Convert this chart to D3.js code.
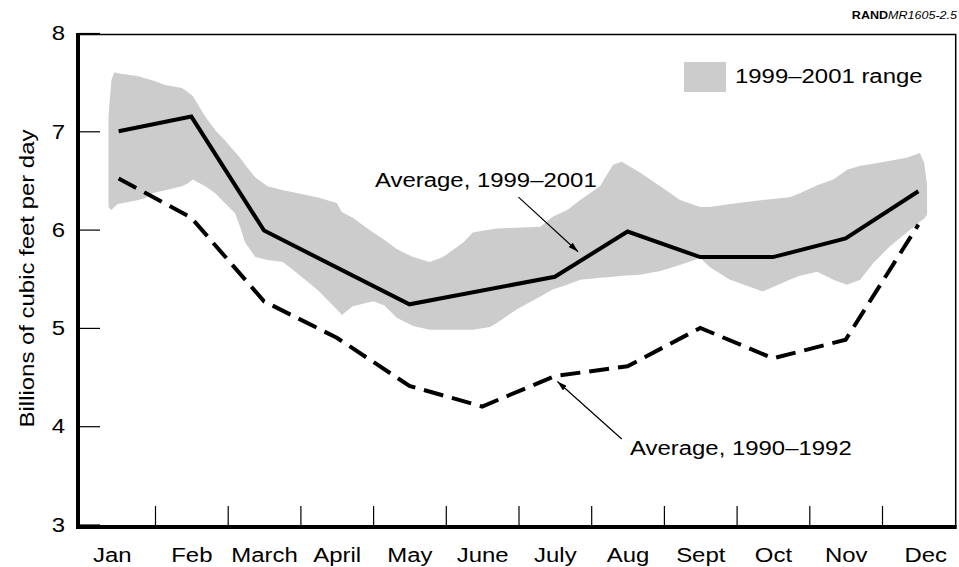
<!DOCTYPE html>
<html>
<head>
<meta charset="utf-8">
<script src="https://cdn.jsdelivr.net/npm/d3@7"></script>
<style>
  body { margin: 0; background: #fff; }
  svg { display: block; }
</style>
</head>
<body>
<div id="chart"></div>
<script>
// monthly averages (billions of cubic feet per day)
const months = ['Jan', 'Feb', 'March', 'April', 'May', 'June', 'July', 'Aug', 'Sept', 'Oct', 'Nov', 'Dec'];
const avg9901 = [7.0, 7.15, 5.99, null, 5.24, null, 5.52, 5.98, 5.72, 5.72, 5.91, 6.39];
const avg9092 = [6.52, 6.12, 5.27, 4.90, 4.41, 4.20, 4.51, 4.61, 5.00, 4.69, 4.88, 6.05];

// 1999-2001 range, position in months from Jan 1
const rangeMonth = [0.36, 0.40, 0.44, 0.49, 0.77, 0.86, 0.96, 1.14, 1.37, 1.45, 1.52, 1.69, 1.83, 1.96, 2.10, 2.17, 2.24, 2.38, 2.55, 2.76, 2.90, 3.23, 3.50, 3.57, 3.72, 4.00, 4.15, 4.33, 4.55, 4.78, 4.96, 5.24, 5.37, 5.61, 5.70, 5.98, 6.30, 6.47, 6.67, 6.85, 7.12, 7.30, 7.42, 7.67, 7.95, 8.22, 8.50, 8.63, 8.91, 9.36, 9.73, 9.87, 10.11, 10.33, 10.52, 10.70, 10.88, 11.11, 11.34, 11.52, 11.58, 11.62];
const rangeLow = [6.23, 6.20, 6.23, 6.26, 6.30, 6.32, 6.37, 6.40, 6.44, 6.47, 6.51, 6.44, 6.37, 6.27, 6.17, 6.03, 5.87, 5.72, 5.69, 5.67, 5.59, 5.39, 5.19, 5.13, 5.22, 5.27, 5.23, 5.10, 5.02, 4.98, 4.98, 4.98, 4.98, 5.01, 5.05, 5.19, 5.32, 5.39, 5.44, 5.49, 5.51, 5.52, 5.53, 5.54, 5.58, 5.64, 5.71, 5.62, 5.49, 5.37, 5.49, 5.53, 5.57, 5.49, 5.44, 5.49, 5.66, 5.83, 5.97, 6.08, 6.11, 6.15];
const rangeHigh = [7.15, 7.52, 7.60, 7.59, 7.56, 7.54, 7.52, 7.47, 7.44, 7.40, 7.36, 7.15, 7.01, 6.91, 6.79, 6.73, 6.66, 6.53, 6.44, 6.40, 6.38, 6.33, 6.27, 6.18, 6.12, 5.97, 5.90, 5.80, 5.72, 5.67, 5.72, 5.87, 5.97, 6.00, 6.01, 6.02, 6.03, 6.13, 6.20, 6.30, 6.44, 6.66, 6.69, 6.58, 6.44, 6.30, 6.23, 6.23, 6.26, 6.30, 6.33, 6.37, 6.45, 6.51, 6.61, 6.65, 6.67, 6.70, 6.73, 6.78, 6.68, 6.45];

const yTickValues = [3, 4, 5, 6, 7, 8];

let width = 959, height = 567;
const FONT = '"Liberation Sans", Arial, Helvetica, sans-serif';
const SX = 1.14; // the original type is set a bit wide

let svg = d3.select('#chart')
  .append('svg')
  .attr('width', width)
  .attr('height', height);

let xscale = d3.scaleLinear().domain([0, 12]).range([82.3, 954.7]);
let yscale = d3.scaleLinear().domain([3, 8]).range([524.5, 33]);

const axisLeftX = 78, axisBottomY = 527;

svg.append('defs').append('marker')
  .attr('id', 'arrow')
  .attr('viewBox', '0 0 10 6')
  .attr('refX', 10)
  .attr('refY', 3)
  .attr('markerUnits', 'userSpaceOnUse')
  .attr('markerWidth', 10)
  .attr('markerHeight', 6)
  .attr('orient', 'auto')
  .append('path')
  .attr('d', 'M0,0 L10,3 L0,6 Z')
  .attr('fill', 'black');

function label(px, py, str, size, anchor, rot) {
  return svg.append('text')
    .attr('transform', `translate(${px},${py})` + (rot ? ` rotate(${rot})` : '') + ` scale(${SX},1)`)
    .attr('text-anchor', anchor || 'start')
    .style('font-family', FONT)
    .style('font-size', size + 'px')
    .attr('fill', 'black')
    .text(str);
}

// range band
let band = rangeMonth.map((m, i) => ({ m: m, lo: rangeLow[i], hi: rangeHigh[i] }));
svg.append('path')
  .datum(band)
  .attr('fill', '#cccccc')
  .attr('d', d3.area()
    .x(d => xscale(d.m))
    .y0(d => yscale(d.lo))
    .y1(d => yscale(d.hi)));

// frame (top and right thin)
svg.append('path')
  .attr('d', `M${axisLeftX},${yscale(8) + 1.5} H${xscale(12) + 1} V${axisBottomY}`)
  .attr('fill', 'none')
  .attr('stroke', 'black')
  .attr('stroke-width', 1.5);

// y axis
let yaxis = svg.append('g')
  .attr('transform', `translate(${axisLeftX},0)`)
  .call(d3.axisLeft(yscale).tickValues(yTickValues).tickSize(-22).tickPadding(11.4).tickFormat(d3.format('d')));
yaxis.select('.domain').remove();
yaxis.selectAll('.tick line').attr('stroke-width', 1.2);
yaxis.selectAll('.tick text')
  .attr('transform', `scale(${SX},1)`)
  .style('font-family', FONT)
  .style('font-size', '21px');

// x axis: month boundaries as ticks, names in the middle
let xaxis = svg.append('g')
  .attr('transform', `translate(0,${axisBottomY})`)
  .call(d3.axisBottom(xscale).tickValues(d3.range(1, 12)).tickSize(-21).tickFormat(''));
xaxis.select('.domain').remove();
xaxis.selectAll('.tick line').attr('stroke-width', 1.2);

let xlabels = svg.append('g')
  .attr('transform', `translate(0,${axisBottomY})`)
  .call(d3.axisBottom(xscale).tickValues(months.map((m, i) => i + 0.5)).tickSize(0)
    .tickFormat((d, i) => months[i]));
xlabels.select('.domain').remove();
xlabels.selectAll('.tick text')
  .attr('y', 35)
  .attr('dy', null)
  .attr('dx', (d, i) => i === 0 ? -6 : (i === 11 ? 6 : 0))
  .attr('transform', `scale(${SX},1)`)
  .style('font-family', FONT)
  .style('font-size', '21px');

// thick left and bottom axis lines
svg.append('rect')
  .attr('x', axisLeftX - 2).attr('y', yscale(8))
  .attr('width', 4).attr('height', axisBottomY + 2 - yscale(8))
  .attr('fill', 'black');
svg.append('rect')
  .attr('x', axisLeftX - 2).attr('y', axisBottomY - 2)
  .attr('width', xscale(12) + 2 - (axisLeftX - 2)).attr('height', 4)
  .attr('fill', 'black');

// lines
let line = d3.line()
  .x(d => xscale(d.i + 0.5))
  .y(d => yscale(d.v));

let solidPts = avg9901.map((v, i) => ({ i: i, v: v })).filter(d => d.v !== null);
svg.append('path')
  .datum(solidPts)
  .attr('fill', 'none')
  .attr('stroke', 'black')
  .attr('stroke-width', 4)
  .attr('d', line);

let dashPts = avg9092.map((v, i) => ({ i: i, v: v }));
svg.append('path')
  .datum(dashPts)
  .attr('fill', 'none')
  .attr('stroke', 'black')
  .attr('stroke-width', 4)
  .attr('stroke-dasharray', '20,9')
  .attr('d', line);

// annotations
label(375, 186.5, 'Average, 1999\u20132001', 21);
svg.append('line')
  .attr('x1', xscale(6.0)).attr('y1', yscale(6.33))
  .attr('x2', xscale(6.82)).attr('y2', yscale(5.775))
  .attr('stroke', 'black').attr('stroke-width', 1.2)
  .attr('marker-end', 'url(#arrow)');

label(630, 455, 'Average, 1990\u20131992', 21);
svg.append('line')
  .attr('x1', xscale(7.42)).attr('y1', yscale(3.87))
  .attr('x2', xscale(6.535)).attr('y2', yscale(4.455))
  .attr('stroke', 'black').attr('stroke-width', 1.2)
  .attr('marker-end', 'url(#arrow)');

// legend
svg.append('rect')
  .attr('x', 684).attr('y', 62)
  .attr('width', 42).attr('height', 30)
  .attr('fill', '#cccccc');
label(735, 83, '1999\u20132001 range', 21);

// y axis title
label(34, 278.5, 'Billions of cubic feet per day', 21, 'middle', -90);

// figure number
let fig = label(957, 19, '', 11, 'end');
fig.append('tspan').style('font-weight', 'bold').text('RAND');
fig.append('tspan').style('font-style', 'italic').text('MR1605-2.5');
</script>
</body>
</html>
